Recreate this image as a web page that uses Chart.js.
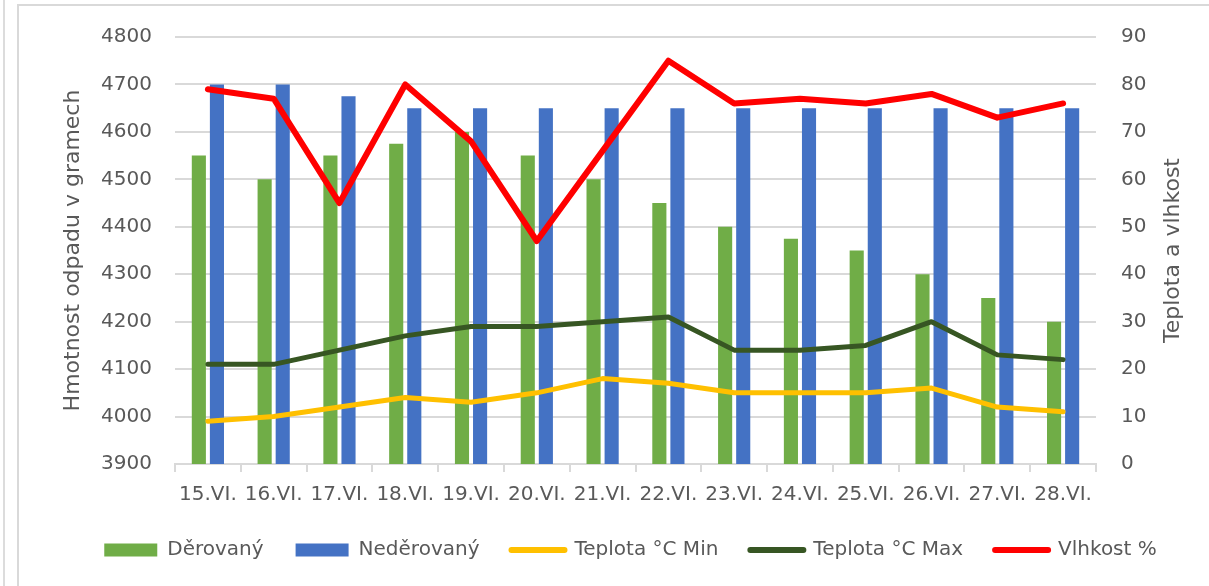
<!DOCTYPE html>
<html>
<head>
<meta charset="utf-8">
<script src="https://cdn.jsdelivr.net/npm/chart.js"></script>
<style>
    body { margin: 0; background: #fff; }
    #contenedor { position: relative; width: 1209px; height: 586px; overflow: hidden; }
    .linea1 { position: absolute; left: 3px; top: 0; width: 2px; height: 586px; background: #dcdcdc; }
    .marco { position: absolute; left: 17px; top: 4px; right: -10px; bottom: -10px; border-left: 2px solid #d9d9d9; border-top: 2px solid #d9d9d9; }
    #grafico1 { position: absolute; left: 0; top: 0; }
</style>
</head>
<body>
<div id="contenedor">
    <div class="linea1"></div>
    <div class="marco"></div>
    <canvas id="grafico1" width="1209" height="586"></canvas>
</div>
<script>
var dias = ['15.VI.', '16.VI.', '17.VI.', '18.VI.', '19.VI.', '20.VI.', '21.VI.', '22.VI.', '23.VI.', '24.VI.', '25.VI.', '26.VI.', '27.VI.', '28.VI.'];
var derovany = [4550, 4500, 4550, 4575, 4600, 4550, 4500, 4450, 4400, 4375, 4350, 4300, 4250, 4200];
var nederovany = [4700, 4700, 4675, 4650, 4650, 4650, 4650, 4650, 4650, 4650, 4650, 4650, 4650, 4650];
var teplotaMin = [9, 10, 12, 14, 13, 15, 18, 17, 15, 15, 15, 16, 12, 11];
var teplotaMax = [21, 21, 24, 27, 29, 29, 30, 31, 24, 24, 25, 30, 23, 22];
var vlhkost = [79, 77, 55, 80, 68, 47, 66, 85, 76, 77, 76, 78, 73, 76];

var colorTexto = '#595959';
var colorGrid = '#d9d9d9';
var fuente = 'DejaVu Sans';

function lineaDataset(label, data, color, ancho) {
    return {
        type: 'line',
        label: label,
        data: data,
        yAxisID: 'y1',
        borderColor: color,
        backgroundColor: color,
        borderWidth: ancho,
        borderCapStyle: 'round',
        borderJoinStyle: 'round',
        pointRadius: 0,
        pointHoverRadius: 0,
        tension: 0,
        order: 1
    };
}

// titulo del eje derecho, leido de abajo hacia arriba
var tituloDerecho = {
    id: 'tituloDerecho',
    afterDraw: function (chart) {
        var c = chart.ctx;
        var area = chart.chartArea;
        c.save();
        c.translate(1173, (area.top + area.bottom) / 2);
        c.rotate(-Math.PI / 2);
        c.font = '22px "' + fuente + '"';
        c.fillStyle = colorTexto;
        c.textAlign = 'center';
        c.textBaseline = 'middle';
        c.fillText('Teplota a vlhkost', 0, 0);
        c.restore();
    }
};

function cargarGrafico() {
    var ctx = document.getElementById('grafico1').getContext('2d');
    var tipoData = {
        labels: dias,
        datasets: [
            {
                type: 'bar',
                label: 'Děrovaný',
                data: derovany,
                backgroundColor: '#70ad47',
                yAxisID: 'y',
                categoryPercentage: 0.55,
                barPercentage: 0.78,
                order: 2
            },
            {
                type: 'bar',
                label: 'Neděrovaný',
                data: nederovany,
                backgroundColor: '#4472c4',
                yAxisID: 'y',
                categoryPercentage: 0.55,
                barPercentage: 0.78,
                order: 2
            },
            lineaDataset('Teplota °C Min', teplotaMin, '#ffc000', 5),
            lineaDataset('Teplota °C Max', teplotaMax, '#375623', 5),
            lineaDataset('Vlhkost %', vlhkost, '#ff0000', 6)
        ]
    };
    new Chart(ctx, {
        type: 'bar',
        data: tipoData,
        plugins: [tituloDerecho],
        options: {
            responsive: false,
            animation: false,
            layout: { padding: { top: 34, left: 52, right: 0, bottom: 16 } },
            plugins: {
                tooltip: { enabled: false },
                legend: {
                    position: 'bottom',
                    labels: {
                        color: colorTexto,
                        font: { family: fuente, size: 20 },
                        usePointStyle: true,
                        pointStyleWidth: 53,
                        boxHeight: 13,
                        padding: 32,
                        sort: function (a, b) { return a.datasetIndex - b.datasetIndex; },
                        generateLabels: function (chart) {
                            var items = Chart.defaults.plugins.legend.labels.generateLabels(chart);
                            items.forEach(function (it) {
                                var ds = chart.data.datasets[it.datasetIndex];
                                if (ds.type === 'line') {
                                    it.pointStyle = 'line';
                                    it.strokeStyle = ds.borderColor;
                                    it.lineWidth = 6;
                                    it.lineCap = 'round';
                                } else {
                                    it.pointStyle = 'rect';
                                    it.fillStyle = ds.backgroundColor;
                                    it.lineWidth = 0;
                                }
                            });
                            return items;
                        }
                    }
                }
            },
            scales: {
                x: {
                    grid: { drawOnChartArea: false, drawTicks: true, tickLength: 8, color: colorGrid, lineWidth: 2 },
                    border: { display: true, color: colorGrid, width: 2 },
                    ticks: { color: colorTexto, font: { family: fuente, size: 20 }, padding: 11, maxRotation: 0, autoSkip: false },
                    afterFit: function (scale) { scale.height = 44; }
                },
                y: {
                    position: 'left',
                    min: 3900,
                    max: 4800,
                    ticks: {
                        stepSize: 100,
                        color: colorTexto,
                        font: { family: fuente, size: 20 },
                        padding: 23,
                        callback: function (v) { return String(v); }
                    },
                    grid: { color: colorGrid, lineWidth: 2, drawTicks: false },
                    border: { display: false },
                    title: {
                        display: true,
                        text: 'Hmotnost odpadu v gramech',
                        color: colorTexto,
                        font: { family: fuente, size: 22, weight: 'normal' },
                        padding: { top: 8, bottom: 0 }
                    },
                    afterFit: function (scale) { scale.width = 123; }
                },
                y1: {
                    position: 'right',
                    min: 0,
                    max: 90,
                    ticks: {
                        stepSize: 10,
                        color: colorTexto,
                        font: { family: fuente, size: 20 },
                        padding: 25,
                        callback: function (v) { return String(v); }
                    },
                    grid: { drawOnChartArea: false, drawTicks: false },
                    border: { display: false },
                    afterFit: function (scale) { scale.width = 113; }
                }
            }
        }
    });
}

cargarGrafico();
</script>
</body>
</html>
